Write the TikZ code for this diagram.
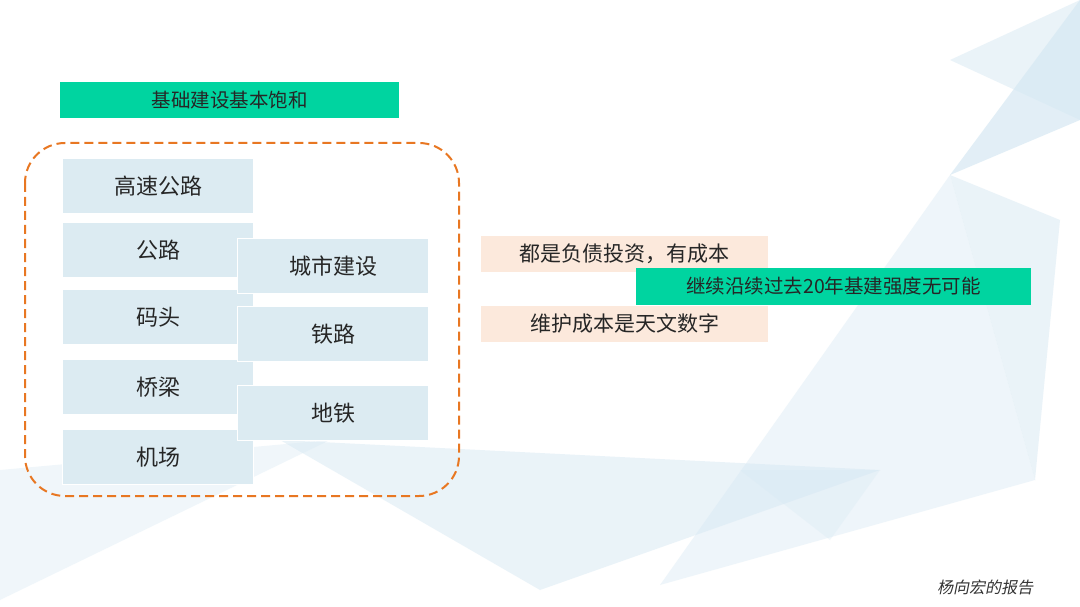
\documentclass[tikz,border=0pt]{standalone}
\usepackage{fontspec}
\setmainfont{Noto Sans CJK SC}
\newfontfamily\slantcjk[FakeSlant=0.2]{Noto Sans CJK SC}
\begin{document}
\begin{tikzpicture}[x=1pt,y=-1pt,
 bluebox/.style={fill=boxblue,draw=white,line width=1.5pt,minimum width=191pt,minimum height=55pt,inner sep=0pt,font=\fontsize{22}{24}\selectfont,text=black!85},
 peach/.style={fill=peachc,minimum width=287pt,minimum height=36pt,inner sep=0pt,font=\fontsize{21}{24}\selectfont,text=black!85},
 greenbox/.style={fill=greenc,inner sep=0pt,font=\fontsize{19.5}{24}\selectfont,text=black!85},
 dn/.style={text depth=0pt,yshift=0pt}]
\definecolor{boxblue}{HTML}{DCEBF2}
\definecolor{peachc}{HTML}{FCE9DC}
\definecolor{greenc}{HTML}{00D4A0}
\definecolor{orangec}{HTML}{E87722}
\definecolor{bg1}{HTML}{D6E8F3}
\newcommand\lw[1]{\raisebox{-3pt}{#1}}
\useasboundingbox (0,0) rectangle (1080,607);
\fill[white] (0,0) rectangle (1080,607);
% background facets
\fill[bg1,opacity=0.5] (950,60) -- (1080,0) -- (1080,120) -- cycle;
\fill[bg1,opacity=0.7] (950,175) -- (1080,0) -- (1080,120) -- cycle;
\fill[bg1,opacity=0.5] (950,175) -- (1060,220) -- (1035,480) -- cycle;
\fill[bg1,opacity=0.4] (660,585) -- (1035,480) -- (950,175) -- cycle;
\fill[bg1,opacity=0.5] (280,440) -- (880,470) -- (540,590) -- cycle;
\fill[bg1,opacity=0.35] (0,470) -- (330,440) -- (0,600) -- cycle;
\fill[bg1,opacity=0.3] (740,470) -- (880,470) -- (830,540) -- cycle;
% main
\node[greenbox,minimum width=339pt,minimum height=36pt] (title) at (229.5,100) {\lw{基础建设基本饱和}};
\draw[orangec,line width=2pt,dash pattern=on 9pt off 5pt,rounded corners=40pt] (25,143) rectangle (459,496);
\node[bluebox] (a) at (158,186) {\lw{高速公路}};
\node[bluebox] (b) at (158,250) {\lw{公路}};
\node[bluebox] (c) at (158,317) {\lw{码头}};
\node[bluebox] (d) at (158,387) {\lw{桥梁}};
\node[bluebox] (e) at (158,457) {\lw{机场}};
\node[bluebox] (f) at (333,266) {\lw{城市建设}};
\node[bluebox] (g) at (333,334) {\lw{铁路}};
\node[bluebox] (h) at (333,413) {\lw{地铁}};
\node[peach] (p1) at (624.5,254) {\lw{都是负债投资，有成本}};
\node[peach] (p2) at (624.5,323.5) {\lw{维护成本是天文数字}};
\node[greenbox,minimum width=395pt,minimum height=37pt] (g2) at (833.5,286.5) {\lw{继续沿续过去20年基建强度无可能}};
\node[font=\fontsize{16}{18}\slantcjk,text=black!80] (foot) at (985,587) {杨向宏的报告};
\end{tikzpicture}
\end{document}
